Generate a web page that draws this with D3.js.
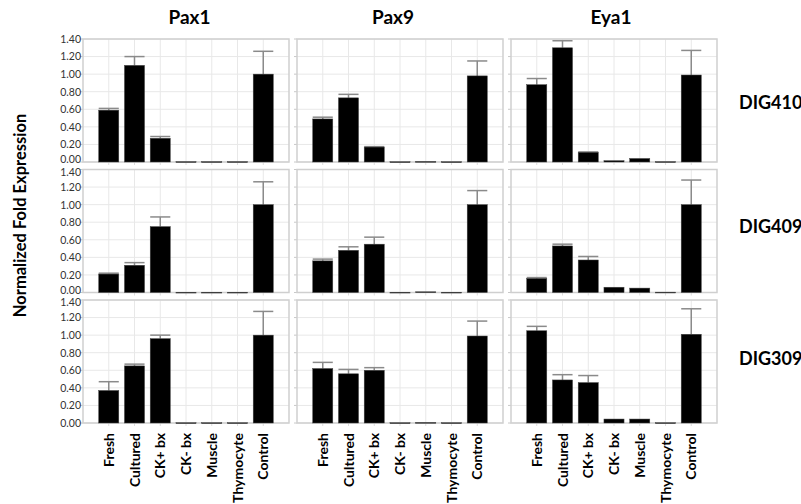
<!DOCTYPE html>
<html><head><meta charset="utf-8">
<script src="https://cdn.jsdelivr.net/npm/d3@7"></script>
<style>body{margin:0;background:#fff}svg{display:block}</style>
</head><body>
<svg id="chart" width="801" height="504"></svg>
<script>
const categories = ["Fresh","Cultured","CK+ bx","CK- bx","Muscle","Thymocyte","Control"];
const genes = ["Pax1","Pax9","Eya1"];
const samples = ["DIG410","DIG409","DIG309"];
const yTicks = [0,0.2,0.4,0.6,0.8,1.0,1.2,1.4];

// mean values, one array per gene x sample
const pax1_DIG410 = [0.59,1.10,0.27,0.004,0.004,0.004,1.00];
const pax1_DIG409 = [0.21,0.31,0.75,0.003,0.003,0.003,1.00];
const pax1_DIG309 = [0.37,0.65,0.96,0.003,0.003,0.003,1.00];
const pax9_DIG410 = [0.49,0.73,0.17,0.003,0.006,0.003,0.98];
const pax9_DIG409 = [0.36,0.48,0.55,0.003,0.008,0.003,1.00];
const pax9_DIG309 = [0.62,0.56,0.60,0.003,0.006,0.003,0.99];
const eya1_DIG410 = [0.88,1.30,0.11,0.015,0.04,0.004,0.99];
const eya1_DIG409 = [0.16,0.53,0.37,0.06,0.05,0.004,1.00];
const eya1_DIG309 = [1.05,0.49,0.46,0.045,0.045,0.003,1.01];

// error (upper) values
const pax1_DIG410_err = [0.02,0.10,0.02,0,0,0,0.26];
const pax1_DIG409_err = [0.01,0.03,0.11,0,0,0,0.26];
const pax1_DIG309_err = [0.10,0.02,0.04,0,0,0,0.27];
const pax9_DIG410_err = [0.02,0.04,0.005,0,0,0,0.17];
const pax9_DIG409_err = [0.02,0.04,0.08,0,0,0,0.16];
const pax9_DIG309_err = [0.07,0.05,0.03,0,0,0,0.17];
const eya1_DIG410_err = [0.07,0.08,0.005,0,0,0,0.28];
const eya1_DIG409_err = [0.01,0.02,0.04,0,0,0,0.28];
const eya1_DIG309_err = [0.05,0.06,0.08,0,0,0,0.29];

const means = {
  Pax1:[pax1_DIG410,pax1_DIG409,pax1_DIG309],
  Pax9:[pax9_DIG410,pax9_DIG409,pax9_DIG309],
  Eya1:[eya1_DIG410,eya1_DIG409,eya1_DIG309]
};
const errs = {
  Pax1:[pax1_DIG410_err,pax1_DIG409_err,pax1_DIG309_err],
  Pax9:[pax9_DIG410_err,pax9_DIG409_err,pax9_DIG309_err],
  Eya1:[eya1_DIG410_err,eya1_DIG409_err,eya1_DIG309_err]
};

const svg = d3.select("#chart");
const font = "Lato, 'Open Sans', sans-serif";
const colLeft = [83, 297, 511];
const pw = 206;
const rowTop = [39, 169.5, 300];
const ph = 123;
const titleX = [189.5, 393, 611];
const rowLabelY = [103, 227, 359];

const x = d3.scalePoint().domain(categories).range([0, pw]).padding(1);
const barW = x.step() * 0.78;
const y = d3.scaleLinear().domain([0, 1.4]).range([ph, 0]);

genes.forEach((g, ci) => {
  svg.append("text")
    .attr("x", titleX[ci])
    .attr("y", 24)
    .attr("text-anchor","middle")
    .style("font-family", font).style("font-weight","bold").style("font-size","19px")
    .text(g);
  samples.forEach((s, ri) => {
    const gp = svg.append("g").attr("transform", `translate(${colLeft[ci]},${rowTop[ri]})`);
    // grid
    gp.selectAll("line.hg").data(yTicks).join("line")
      .attr("x1",0).attr("x2",pw).attr("y1",d=>y(d)).attr("y2",d=>y(d))
      .attr("stroke","#e8e8e8").attr("stroke-width",1);
    gp.selectAll("line.vg").data(categories).join("line")
      .attr("y1",0).attr("y2",ph).attr("x1",d=>x(d)).attr("x2",d=>x(d))
      .attr("stroke","#e8e8e8").attr("stroke-width",1);
    // outer tick marks
    gp.selectAll("line.yt").data(yTicks).join("line")
      .attr("x1",-3).attr("x2",0).attr("y1",d=>y(d)).attr("y2",d=>y(d))
      .attr("stroke","#c8c8c8");
    gp.selectAll("line.xt").data(categories).join("line")
      .attr("y1",ph).attr("y2",ph+3).attr("x1",d=>x(d)).attr("x2",d=>x(d))
      .attr("stroke","#dddddd");
    // border
    gp.append("rect").attr("x",0).attr("y",0).attr("width",pw).attr("height",ph)
      .attr("fill","none").attr("stroke","#cfcfcf").attr("stroke-width",1.5);
    const m = means[g][ri], e = errs[g][ri];
    const data = categories.map((c,i)=>({c, v:m[i], e:e[i]}));
    // error bars
    const eb = data.filter(d=>d.e>0.001);
    gp.selectAll("line.ev").data(eb).join("line")
      .attr("x1",d=>x(d.c)).attr("x2",d=>x(d.c))
      .attr("y1",d=>y(d.v)).attr("y2",d=>y(d.v+d.e))
      .attr("stroke","#8a8a8a").attr("stroke-width",1.5);
    gp.selectAll("line.ec").data(eb).join("line")
      .attr("x1",d=>x(d.c)-barW/2).attr("x2",d=>x(d.c)+barW/2)
      .attr("y1",d=>y(d.v+d.e)).attr("y2",d=>y(d.v+d.e))
      .attr("stroke","#8a8a8a").attr("stroke-width",1.5);
    // bars
    gp.selectAll("rect.bar").data(data).join("rect")
      .attr("x",d=>x(d.c)-barW/2).attr("width",barW)
      .attr("y",d=>y(d.v)).attr("height",d=>Math.max(0.8, ph-y(d.v)))
      .attr("fill","#000").attr("stroke","#444").attr("stroke-width",0.5);
    if (ci===0) {
      const ax = gp.append("g").call(d3.axisLeft(y).tickValues(yTicks).tickFormat(d3.format(".2f")).tickSize(0).tickPadding(2));
      ax.select(".domain").remove();
      ax.selectAll("text").style("font-family",font).style("font-size","10.5px").attr("fill","#333")
        .attr("dy", d => {
          if (d===0 && ri<2) return "0.05em";
          if (d===1.4 && ri>0) return "0.55em";
          return "0.32em";
        });
    }
    if (ri===2) {
      gp.selectAll("text.xl").data(categories).join("text")
        .attr("transform",d=>`translate(${x(d)+5},${ph+10}) rotate(-90)`)
        .attr("text-anchor","end")
        .style("font-family",font).style("font-weight","bold").style("font-size","14px")
        .text(d=>d);
    }
    if (ci===2) {
      svg.append("text")
        .attr("x", 739).attr("y", rowLabelY[ri])
        .attr("dy","0.35em")
        .style("font-family",font).style("font-weight","bold").style("font-size","18px")
        .text(s);
    }
  });
});

svg.append("text")
  .attr("transform","translate(26,215.5) rotate(-90)")
  .attr("text-anchor","middle")
  .style("font-family",font).style("font-weight","bold").style("font-size","16.5px")
  .text("Normalized Fold Expression");
</script>
</body></html>
